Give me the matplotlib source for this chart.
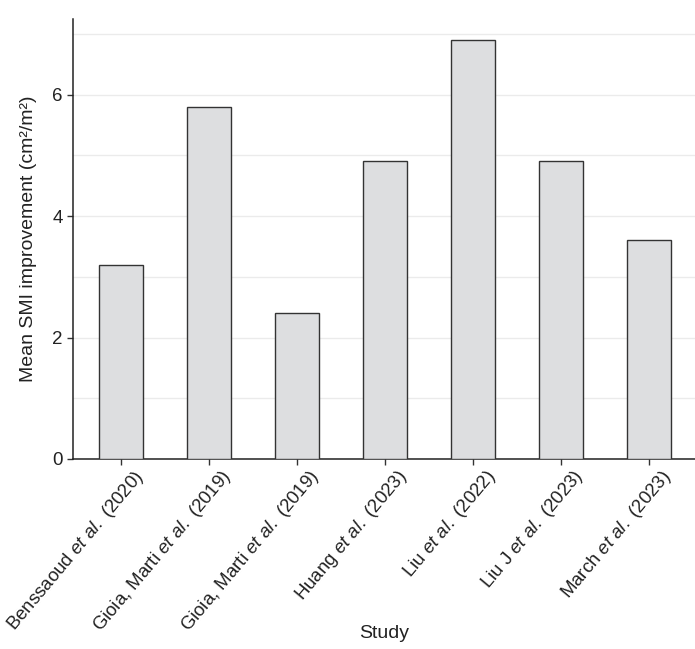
import matplotlib
matplotlib.use('Agg')
import matplotlib.pyplot as plt
import matplotlib.transforms as mtransforms
from matplotlib.ticker import MultipleLocator

plt.rcParams['font.family'] = ['Liberation Sans', 'DejaVu Sans']
plt.rcParams['mathtext.fontset'] = 'custom'
plt.rcParams['mathtext.rm'] = 'Liberation Sans'
plt.rcParams['mathtext.it'] = 'Liberation Sans:italic'

# data
studies = ["Benssaoud $\\mathit{et\\ al.}$ (2020)",
           "Gioia, Marti $\\mathit{et\\ al.}$ (2019)",
           "Gioia, Marti $\\mathit{et\\ al.}$ (2019)",
           "Huang $\\mathit{et\\ al.}$ (2023)",
           "Liu $\\mathit{et\\ al.}$ (2022)",
           "Liu J $\\mathit{et\\ al.}$ (2023)",
           "March $\\mathit{et\\ al.}$ (2023)"]
smi_gain = [3.2, 5.8, 2.4, 4.9, 6.9, 4.9, 3.6]

fig = plt.figure(figsize=(6.95, 6.49), dpi=100)
ax = fig.add_axes([0.105, 0.2928, 0.895, 0.678])

pos = list(range(1, len(studies) + 1))
ax.bar(pos, smi_gain, width=0.5, color='#dddee0', edgecolor='#333333',
       linewidth=1.0, zorder=3)

ax.set_xlim(0.45, 7.52)
ax.set_ylim(0, 7.245)
ax.yaxis.set_major_locator(MultipleLocator(2))
ax.yaxis.set_minor_locator(MultipleLocator(1))
ax.grid(axis='y', which='both', color='#ebebeb', linewidth=1.0, zorder=0)
ax.tick_params(axis='y', which='minor', length=0)
ax.tick_params(axis='both', which='major', colors='#333333',
               length=4, width=1, labelcolor='#222222')
ax.tick_params(axis='y', labelsize=13.5)
ax.tick_params(axis='x', pad=1.5)

ax.set_xticks(pos)
ax.set_xticklabels(studies, rotation=50, ha='right', va='top',
                   rotation_mode='anchor', fontsize=13.4)
shift = mtransforms.ScaledTranslation(11 / 100, 0, fig.dpi_scale_trans)
for lab in ax.get_xticklabels():
    lab.set_transform(lab.get_transform() + shift)

for s in ['top', 'right']:
    ax.spines[s].set_visible(False)
for s in ['left', 'bottom']:
    ax.spines[s].set_color('#222222')
    ax.spines[s].set_linewidth(1.1)

ax.set_ylabel("Mean SMI improvement (cm²/m²)", fontsize=14, color='#222222')
ax.yaxis.set_label_coords(-0.058, 0.5)
ax.set_xlabel("Study", fontsize=14, color='#222222', va='top')
ax.xaxis.set_label_coords(0.5, -0.377)

fig.savefig('out.png', dpi=100)
